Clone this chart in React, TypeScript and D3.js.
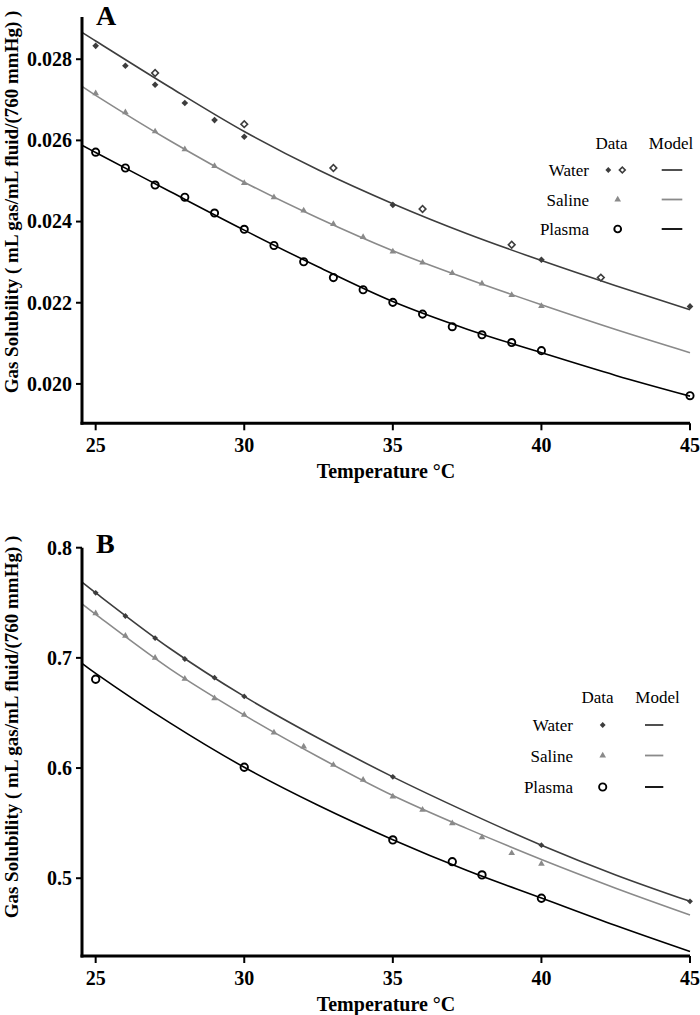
import React from "react";
import * as d3 from "d3";

// ---------- data ----------
const xTicks = [25, 30, 35, 40, 45];
const xDomain = [24.54, 45];

// Panel A
const aTicks = [0.02, 0.022, 0.024, 0.026, 0.028];
const aDomain = [0.01903, 0.02904];
const aWaterFilledT = [25, 26, 27, 28, 29, 30, 35, 40, 45];
const aWaterFilledV = [0.02833, 0.02784, 0.02737, 0.02692, 0.0265, 0.02609, 0.02441, 0.02306, 0.02191];
const aWaterOpenT = [27, 30, 33, 36, 39, 42];
const aWaterOpenV = [0.02766, 0.0264, 0.02532, 0.02431, 0.02343, 0.02262];
const aSalineT = [25, 26, 27, 28, 29, 30, 31, 32, 33, 34, 35, 36, 37, 38, 39, 40];
const aSalineV = [0.02716, 0.02669, 0.02622, 0.02578, 0.02537, 0.02495, 0.0246, 0.02427, 0.02394, 0.02362, 0.02326, 0.02299, 0.02273, 0.02247, 0.02219, 0.02192];
const aPlasmaT = [25, 26, 27, 28, 29, 30, 31, 32, 33, 34, 35, 36, 37, 38, 39, 40, 45];
const aPlasmaV = [0.02571, 0.02532, 0.0249, 0.0246, 0.02421, 0.02381, 0.02341, 0.02301, 0.02262, 0.02232, 0.02201, 0.02172, 0.02141, 0.02121, 0.02102, 0.02082, 0.01971];
const modelT = [24.54, 25, 27.5, 30, 32.5, 35, 37.5, 40, 42.5, 45];
const aWaterModel = [0.02866, 0.02845, 0.02731, 0.02622, 0.02527, 0.02444, 0.0237, 0.02304, 0.02242, 0.02183];
const aSalineModel = [0.02733, 0.02711, 0.02599, 0.02497, 0.02408, 0.02328, 0.02259, 0.02195, 0.02134, 0.02077];
const aPlasmaModel = [0.02588, 0.0257, 0.02474, 0.02379, 0.02288, 0.02203, 0.02135, 0.02077, 0.02021, 0.0197];

// Panel B
const bTicks = [0.5, 0.6, 0.7, 0.8];
const bDomain = [0.4294, 0.8];
const bWaterT = [25, 26, 27, 28, 29, 30, 35, 40, 45];
const bWaterV = [0.759, 0.738, 0.718, 0.699, 0.682, 0.665, 0.592, 0.53, 0.479];
const bSalineT = [25, 26, 27, 28, 29, 30, 31, 32, 33, 34, 35, 36, 37, 38, 39, 40];
const bSalineV = [0.7405, 0.72, 0.7, 0.681, 0.6633, 0.6482, 0.6321, 0.6194, 0.6028, 0.5892, 0.5741, 0.562, 0.5499, 0.5372, 0.5227, 0.513];
const bPlasmaT = [25, 30, 35, 37, 38, 40];
const bPlasmaV = [0.6806, 0.6007, 0.5348, 0.515, 0.503, 0.4818];
const bWaterModel = [0.7687, 0.759, 0.7085, 0.665, 0.627, 0.592, 0.56, 0.53, 0.503, 0.479];
const bSalineModel = [0.749, 0.7395, 0.69, 0.648, 0.61, 0.575, 0.545, 0.517, 0.491, 0.4667];
const bPlasmaModel = [0.6951, 0.686, 0.641, 0.6007, 0.566, 0.535, 0.507, 0.482, 0.457, 0.4334];

const seriesNames = ["Water", "Saline", "Plasma"];
const yTitle = "Gas Solubility ( mL gas/mL fluid/(760 mmHg) )";
const xTitle = "Temperature \u00B0C";

// ---------- styles ----------
const FONT = "'Liberation Serif', 'Times New Roman', serif";
const WATER = "#3d3d3d";
const SALINE = "#8a8a8a";
const PLASMA = "#000000";

const diamond = d3.symbol().type(d3.symbolSquare).size(22)();
const diamondSmall = d3.symbol().type(d3.symbolSquare).size(17)();
const triangle = d3.symbol().type(d3.symbolTriangle).size(19)();

type PanelProps = {
  label: string;
  yDomain: number[];
  yRange: number[];
  yTickVals: number[];
  yFmt: (v: number) => string;
  models: number[][];
  children: (x: d3.ScaleLinear<number, number>, y: d3.ScaleLinear<number, number>) => React.ReactNode;
  labelPos: number[];
  yTitleY: number;
  legend: { dataX: number; modelX: number; headY: number; rowY: number[]; textRight: number; markX: number; lineX: number[]; markers: (i: number, cx: number, cy: number) => React.ReactNode };
};

function Panel(p: PanelProps) {
  const x = d3.scaleLinear().domain(xDomain).range([82, 690]);
  const y = d3.scaleLinear().domain(p.yDomain).range(p.yRange);
  const line = d3
    .line<number>()
    .x((_, i) => x(modelT[i]))
    .y((d) => y(d))
    .curve(d3.curveCatmullRom.alpha(0.5));
  const colors = [WATER, SALINE, PLASMA];
  const [y0, y1] = p.yRange;
  const L = p.legend;
  return (
    <g>
      {p.models.map((m, i) => (
        <path key={i} d={line(m) || ""} fill="none" stroke={colors[i]} strokeWidth={1.6} />
      ))}
      {p.children(x, y)}
      {/* axes */}
      <line x1={82} x2={82} y1={y0 + 1.5} y2={y1} stroke="#000" strokeWidth={3} />
      <line x1={80.5} x2={690} y1={y0} y2={y0} stroke="#000" strokeWidth={3} />
      {p.yTickVals.map((v) => (
        <g key={v}>
          <line x1={76} x2={82} y1={y(v)} y2={y(v)} stroke="#000" strokeWidth={2} />
          <text x={72} y={y(v)} dy="0.34em" textAnchor="end" fontFamily={FONT} fontWeight="bold" fontSize={20}>
            {p.yFmt(v)}
          </text>
        </g>
      ))}
      {xTicks.map((v) => (
        <g key={v}>
          <line x1={x(v)} x2={x(v)} y1={y0} y2={y0 + 7} stroke="#000" strokeWidth={2} />
          <text x={x(v)} y={y0 + 29} textAnchor="middle" fontFamily={FONT} fontWeight="bold" fontSize={20}>
            {v}
          </text>
        </g>
      ))}
      <text x={386} y={y0 + 55} textAnchor="middle" fontFamily={FONT} fontWeight="bold" fontSize={20}>
        {xTitle}
      </text>
      <text
        transform={`translate(18,${p.yTitleY}) rotate(-90)`}
        textAnchor="middle"
        fontFamily={FONT}
        fontWeight="bold"
        fontSize={19}
      >
        {yTitle}
      </text>
      <text x={p.labelPos[0]} y={p.labelPos[1]} fontFamily={FONT} fontWeight="bold" fontSize={28}>
        {p.label}
      </text>
      {/* legend */}
      <text x={L.dataX} y={L.headY} textAnchor="middle" fontFamily={FONT} fontSize={17}>
        Data
      </text>
      <text x={L.modelX} y={L.headY} textAnchor="middle" fontFamily={FONT} fontSize={17}>
        Model
      </text>
      {seriesNames.map((n, i) => (
        <g key={n}>
          <text x={L.textRight} y={L.rowY[i] + 6} textAnchor="end" fontFamily={FONT} fontSize={17}>
            {n}
          </text>
          {L.markers(i, L.markX, L.rowY[i])}
          <line x1={L.lineX[0]} x2={L.lineX[1]} y1={L.rowY[i]} y2={L.rowY[i]} stroke={colors[i]} strokeWidth={1.8} />
        </g>
      ))}
    </g>
  );
}

export default function App() {
  return (
    <svg width={700} height={1015} style={{ position: "absolute", left: 0, top: 0, background: "#fff" }}>
      <rect width={700} height={1015} fill="#fff" />
      <Panel
        label="A"
        yDomain={aDomain}
        yRange={[423.3, 17]}
        yTickVals={aTicks}
        yFmt={d3.format(".3f")}
        models={[aWaterModel, aSalineModel, aPlasmaModel]}
        labelPos={[96, 25]}
        yTitleY={202}
        legend={{
          dataX: 611.5,
          modelX: 671,
          headY: 149,
          rowY: [170, 199.5, 229],
          textRight: 589,
          markX: 608.3,
          lineX: [661.7, 682.3],
          markers: (i, cx, cy) =>
            i === 0 ? (
              <g>
                <path d={diamondSmall} transform={`translate(${cx},${cy}) rotate(45)`} fill={WATER} />
                <path d={diamondSmall} transform={`translate(${cx + 14},${cy}) rotate(45)`} fill="#fff" stroke={WATER} strokeWidth={1.6} />
              </g>
            ) : i === 1 ? (
              <path d={triangle} transform={`translate(${cx + 9.4},${cy})`} fill={SALINE} />
            ) : (
              <circle cx={cx + 9.4} cy={cy} r={3.4} fill="none" stroke={PLASMA} strokeWidth={1.9} />
            ),
        }}
      >
        {(x, y) => (
          <g>
            {aWaterOpenT.map((t, i) => (
              <path key={"wo" + i} d={diamond} transform={`translate(${x(t)},${y(aWaterOpenV[i])}) rotate(45)`} fill="#fff" stroke={WATER} strokeWidth={1.6} />
            ))}
            {aWaterFilledT.map((t, i) => (
              <path key={"wf" + i} d={diamond} transform={`translate(${x(t)},${y(aWaterFilledV[i])}) rotate(45)`} fill={WATER} />
            ))}
            {aSalineT.map((t, i) => (
              <path key={"s" + i} d={triangle} transform={`translate(${x(t)},${y(aSalineV[i])})`} fill={SALINE} />
            ))}
            {aPlasmaT.map((t, i) => (
              <circle key={"p" + i} cx={x(t)} cy={y(aPlasmaV[i])} r={3.6} fill="none" stroke={PLASMA} strokeWidth={1.9} />
            ))}
          </g>
        )}
      </Panel>
      <Panel
        label="B"
        yDomain={bDomain}
        yRange={[956, 547.7]}
        yTickVals={bTicks}
        yFmt={d3.format(".1f")}
        models={[bWaterModel, bSalineModel, bPlasmaModel]}
        labelPos={[96, 553]}
        yTitleY={727}
        legend={{
          dataX: 597.5,
          modelX: 657.5,
          headY: 702.7,
          rowY: [725, 755.5, 787],
          textRight: 573,
          markX: 602.7,
          lineX: [645, 663.3],
          markers: (i, cx, cy) =>
            i === 0 ? (
              <path d={diamondSmall} transform={`translate(${cx},${cy}) rotate(45)`} fill={WATER} />
            ) : i === 1 ? (
              <path d={triangle} transform={`translate(${cx},${cy})`} fill={SALINE} />
            ) : (
              <circle cx={cx} cy={cy} r={3.6} fill="none" stroke={PLASMA} strokeWidth={1.9} />
            ),
        }}
      >
        {(x, y) => (
          <g>
            {bWaterT.map((t, i) => (
              <path key={"w" + i} d={diamondSmall} transform={`translate(${x(t)},${y(bWaterV[i])}) rotate(45)`} fill={WATER} />
            ))}
            {bSalineT.map((t, i) => (
              <path key={"s" + i} d={triangle} transform={`translate(${x(t)},${y(bSalineV[i])})`} fill={SALINE} />
            ))}
            {bPlasmaT.map((t, i) => (
              <circle key={"p" + i} cx={x(t)} cy={y(bPlasmaV[i])} r={3.7} fill="none" stroke={PLASMA} strokeWidth={1.9} />
            ))}
          </g>
        )}
      </Panel>
    </svg>
  );
}
